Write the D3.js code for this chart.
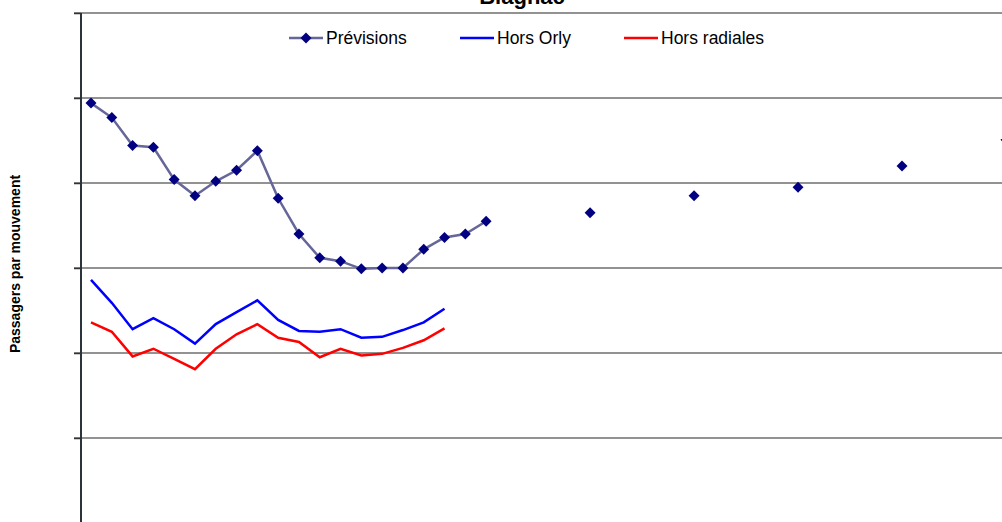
<!DOCTYPE html>
<html>
<head>
<meta charset="utf-8">
<script src="https://cdn.jsdelivr.net/npm/d3@7"></script>
<style>
  body { margin: 0; background: #fff; }
  svg { display: block; font-family: 'Liberation Sans', Arial, sans-serif; }
</style>
</head>
<body>
<script>
let w = 1002;
let h = 522;

// years of the forecast points (yearly, then every 5 years)
let annees = [1986, 1987, 1988, 1989, 1990, 1991, 1992, 1993, 1994, 1995,
  1996, 1997, 1998, 1999, 2000, 2001, 2002, 2003, 2004, 2005,
  2010, 2015, 2020, 2025, 2030];
let previsions = [99.4, 97.7, 94.4, 94.2, 90.4, 88.5, 90.2, 91.5, 93.8, 88.2,
  84.0, 81.2, 80.8, 79.9, 80.0, 80.0, 82.2, 83.6, 84.0, 85.5,
  86.5, 88.5, 89.5, 92.0, 95.1];

let anneesHist = [1986, 1987, 1988, 1989, 1990, 1991, 1992, 1993, 1994, 1995,
  1996, 1997, 1998, 1999, 2000, 2001, 2002, 2003];
let horsOrly = [78.6, 75.9, 72.8, 74.1, 72.8, 71.1, 73.4, 74.8, 76.2, 73.9,
  72.6, 72.5, 72.8, 71.8, 71.9, 72.7, 73.6, 75.2];
let horsRadiales = [73.6, 72.5, 69.6, 70.5, 69.3, 68.1, 70.5, 72.2, 73.4, 71.8,
  71.3, 69.5, 70.5, 69.7, 69.9, 70.6, 71.5, 72.9];

let yTicks = [60, 70, 80, 90, 100, 110];

let xScale = d3.scaleLinear()
  .domain([1986, 2030])
  .range([91, 1006]);

let yScale = d3.scaleLinear()
  .domain([50, 110])
  .range([523, 13]);

let svg = d3.select('body')
  .append('svg')
  .attr('width', w)
  .attr('height', h);

// gridlines
svg.append('g')
  .selectAll('line')
  .data(yTicks)
  .enter()
  .append('line')
  .attr('x1', 74)
  .attr('x2', w)
  .attr('y1', (d) => { return yScale(d); })
  .attr('y2', (d) => { return yScale(d); })
  .attr('stroke', '#6e6e6e')
  .attr('stroke-width', 1.5);

// y axis, no labels
let yAxis = d3.axisLeft()
  .scale(yScale)
  .tickValues(yTicks)
  .tickSize(7)
  .tickFormat('');

let gy = svg.append('g')
  .attr('transform', 'translate(81, 0)')
  .call(yAxis);
gy.select('.domain').remove();
gy.selectAll('.tick line').attr('stroke', '#333').attr('stroke-width', 1.5);
gy.append('line')
  .attr('x1', 0).attr('x2', 0)
  .attr('y1', yScale(110)).attr('y2', h)
  .attr('stroke', '#2b333b')
  .attr('stroke-width', 2);

let line = d3.line()
  .x((d) => { return xScale(d[0]); })
  .y((d) => { return yScale(d[1]); });

// forecast: connect consecutive years only
let prevPts = annees.map((a, i) => { return [a, previsions[i]]; });
let segments = [];
prevPts.forEach((p, i) => {
  if (i === 0 || p[0] - prevPts[i - 1][0] > 1) segments.push([]);
  segments[segments.length - 1].push(p);
});

svg.append('path')
  .datum(anneesHist.map((a, i) => { return [a, horsOrly[i]]; }))
  .attr('d', line)
  .attr('fill', 'none')
  .attr('stroke', '#0000ff')
  .attr('stroke-width', 2.5);

svg.append('path')
  .datum(anneesHist.map((a, i) => { return [a, horsRadiales[i]]; }))
  .attr('d', line)
  .attr('fill', 'none')
  .attr('stroke', '#ff0000')
  .attr('stroke-width', 2.5);

svg.selectAll('.seg')
  .data(segments.filter((s) => { return s.length > 1; }))
  .enter()
  .append('path')
  .attr('class', 'seg')
  .attr('d', line)
  .attr('fill', 'none')
  .attr('stroke', '#666699')
  .attr('stroke-width', 2.5);

let diamond = d3.symbol().type(d3.symbolSquare).size(60);

svg.selectAll('.pt')
  .data(prevPts)
  .enter()
  .append('path')
  .attr('class', 'pt')
  .attr('d', diamond)
  .attr('transform', (d) => { return 'translate(' + xScale(d[0]) + ',' + yScale(d[1]) + ') rotate(45)'; })
  .attr('fill', '#000080');

// title (cut at the top)
svg.append('text')
  .text('Blagnac')
  .attr('x', 522)
  .attr('y', 4)
  .attr('text-anchor', 'middle')
  .attr('font-size', '22px')
  .attr('font-weight', 'bold');

// y label
svg.append('text')
  .text('Passagers par mouvement')
  .attr('transform', 'translate(20, 264) rotate(-90)')
  .attr('text-anchor', 'middle')
  .attr('font-size', '14px')
  .attr('font-weight', 'bold');

// legend
let legend = [
  { name: 'Prévisions', color: '#666699', x: 289, marker: true },
  { name: 'Hors Orly', color: '#0000ff', x: 460, marker: false },
  { name: 'Hors radiales', color: '#ff0000', x: 624, marker: false }
];

let lg = svg.selectAll('.lg')
  .data(legend)
  .enter()
  .append('g')
  .attr('class', 'lg')
  .attr('transform', (d) => { return 'translate(' + d.x + ', 38)'; });

lg.append('line')
  .attr('x1', 0).attr('x2', 34)
  .attr('y1', 0).attr('y2', 0)
  .attr('stroke', (d) => { return d.color; })
  .attr('stroke-width', 2.5);

lg.filter((d) => { return d.marker; })
  .append('path')
  .attr('d', diamond)
  .attr('transform', 'translate(17, 0) rotate(45)')
  .attr('fill', '#000080');

lg.append('text')
  .text((d) => { return d.name; })
  .attr('x', 37)
  .attr('y', 6)
  .attr('font-size', '17.5px');
</script>
</body>
</html>
